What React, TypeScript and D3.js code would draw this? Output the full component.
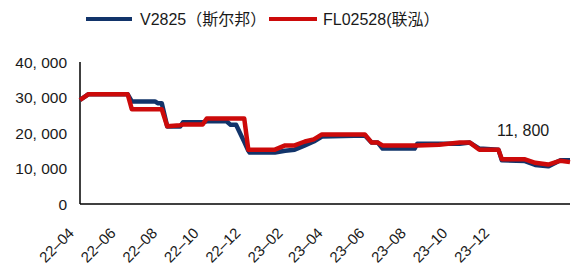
import React from "react";
import * as d3 from "d3";

// series (change points only)
const dates = [
  "2022-04-01", "2022-04-13", "2022-06-10", "2022-06-16", "2022-07-20", "2022-07-24",
  "2022-07-30", "2022-08-07", "2022-08-26", "2022-08-30", "2022-09-28", "2022-10-04",
  "2022-11-02", "2022-11-08", "2022-11-16", "2022-11-28", "2022-12-04", "2022-12-06",
  "2023-01-12", "2023-01-27", "2023-02-10", "2023-02-25", "2023-03-10", "2023-03-22",
  "2023-05-24", "2023-06-03", "2023-06-12", "2023-06-19", "2023-08-05", "2023-08-09",
  "2023-09-10", "2023-10-10", "2023-10-25", "2023-11-08", "2023-12-06", "2023-12-11",
  "2024-01-14", "2024-01-29", "2024-02-17", "2024-03-06", "2024-03-20",
];
const v2825 = [
  29300, 30900, 30900, 28900, 28900, 28400,
  28400, 21800, 21800, 23000, 23000, 23300,
  23300, 22300, 22300, 17500, 15000, 14500,
  14500, 15000, 15300, 16500, 17600, 19000,
  19300, 17300, 17300, 15600, 15600, 17000,
  17000, 17000, 17300, 15600, 15300, 12300,
  12100, 11000, 10600, 12300, 12300,
];
const fl02528 = [
  29300, 30900, 30900, 26700, 26700, 26700,
  26700, 21900, 22200, 22400, 22400, 24100,
  24100, 24100, 24100, 24100, 15300, 15300,
  15300, 16500, 16500, 17600, 18200, 19600,
  19600, 17300, 17300, 16500, 16500, 16500,
  16700, 17300, 17300, 15300, 15300, 12600,
  12600, 11600, 11100, 12200, 11800,
];
const yTicks = [0, 10000, 20000, 30000, 40000];
const xTickLabels = ["22–04", "22–06", "22–08", "22–10", "22–12", "23–02", "23–04", "23–06", "23–08", "23–10", "23–12"];
const xTickDates = ["2022-04-01", "2022-06-01", "2022-08-01", "2022-10-01", "2022-12-01", "2023-02-01", "2023-04-01", "2023-06-01", "2023-08-01", "2023-10-01", "2023-12-01"];
const seriesNames = ["V2825（斯尔邦）", "FL02528(联泓）"];
const lastLabel = "11, 800";

const BLUE = "#12346a";
const RED = "#cc0a0a";
const FONT = "'Liberation Sans', Arial, 'Noto Sans CJK SC', sans-serif";

const fmt = (v: number) => (v === 0 ? "0" : d3.format(",")(v).replace(",", ", "));

export default function App() {
  const width = 587;
  const height = 265;
  const parse = d3.timeParse("%Y-%m-%d");

  const x = d3
    .scaleTime()
    .domain([parse("2022-04-01")!, parse("2024-03-20")!])
    .range([80, 570]);
  const y = d3.scaleLinear().domain([0, 40000]).range([204, 62]);

  const rows = dates.map((d, i) => ({ date: parse(d)!, a: v2825[i], b: fl02528[i] }));
  const lineA = d3.line<any>().x((d) => x(d.date)).y((d) => y(d.a));
  const lineB = d3.line<any>().x((d) => x(d.date)).y((d) => y(d.b));

  return (
    <svg
      width={width}
      height={height}
      style={{ position: "absolute", left: 0, top: 0, background: "#fff" }}
      fontFamily={FONT}
    >
      {/* legend */}
      <g>
        <line x1={86} x2={132} y1={19} y2={19} stroke={BLUE} strokeWidth={4} />
        <text x={140} y={25} fontSize={16} fill="#1a1a1a">{seriesNames[0]}</text>
        <line x1={269} x2={317} y1={19} y2={19} stroke={RED} strokeWidth={4} />
        <text x={323} y={25} fontSize={16} fill="#1a1a1a">{seriesNames[1]}</text>
      </g>

      {/* y axis */}
      <line x1={80} x2={80} y1={y(40000)} y2={y(0)} stroke="#000" strokeWidth={1.5} />
      {yTicks.map((t) => (
        <text key={t} x={67} y={y(t) + 5.5} textAnchor="end" fontSize={15.5} fill="#1a1a1a">
          {fmt(t)}
        </text>
      ))}

      {/* x axis */}
      <line x1={80} x2={570} y1={y(0)} y2={y(0)} stroke="#000" strokeWidth={1.5} />
      {xTickDates.map((d, i) => {
        const tx = x(parse(d)!) - 5;
        return (
          <text
            key={d}
            transform={`translate(${tx},234) rotate(-45)`}
            textAnchor="end"
            fontSize={15}
            fill="#1a1a1a"
          >
            {xTickLabels[i]}
          </text>
        );
      })}

      <path d={lineA(rows) || ""} fill="none" stroke={BLUE} strokeWidth={4.5} strokeLinejoin="round" />
      <path d={lineB(rows) || ""} fill="none" stroke={RED} strokeWidth={4.5} strokeLinejoin="round" />

      <text x={497} y={136} fontSize={16} fill="#1a1a1a">{lastLabel}</text>
    </svg>
  );
}
